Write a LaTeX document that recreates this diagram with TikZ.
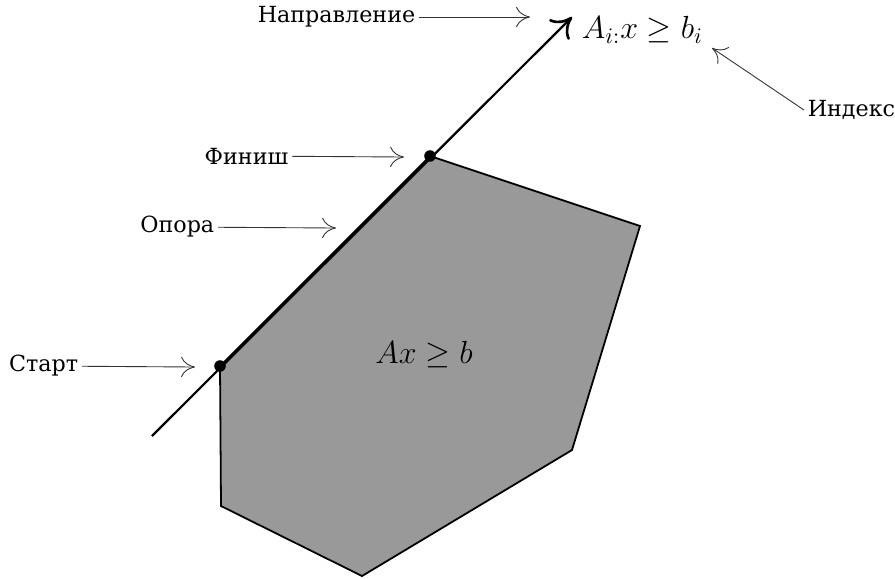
\documentclass[tikz,border=0pt]{standalone}
\usepackage{fontspec}
\setmainfont{DejaVu Serif}
\usepackage{amsmath}
\usepackage{tikz}
\usetikzlibrary{arrows.meta, positioning, calc}
\definecolor{regionfill}{HTML}{999999}
\definecolor{pointer}{HTML}{333333}

\begin{document}
\begin{tikzpicture}[
    x=0.45pt, y=-0.45pt,
    label/.style={inner sep=1.5pt, font=\normalsize},
    hint/.style={-{To[length=2.2mm, width=3.2mm]}, color=pointer, line width=0.4pt},
    vertex/.style={circle, fill=black, inner sep=0pt, minimum size=5.2pt},
    edge/.style={draw=black, line width=0.8pt, fill=regionfill},
]
\useasboundingbox (0,0) rectangle (895,578);

% the feasible region
\draw[edge] (220,366) -- (430,156) -- (640,226) -- (572,450) -- (362,576) -- (221,506) -- cycle;
\node[font=\Large] (region) at (424,355) {$Ax \geq b$};

% the direction line and its end points
\coordinate (tail) at (152,436);
\coordinate (head) at (572,17);
\draw[-{To[length=3mm, width=4.5mm, line width=1.2pt]}, line width=1pt] (tail) -- (head);
\node[vertex] (start) at (220,366) {};
\node[vertex] (finish) at (430,156) {};
\node[font=\Large, anchor=west] (constraint) at (574,30) {$A_{i:}x \geq b_i$};

% labels on the left
\node[label, anchor=east] (direction) at (419,17) {Направление};
\node[label, anchor=east] (fin) at (292,156) {Финиш};
\node[label, anchor=east] (support) at (218,227) {Опора};
\node[label, anchor=east] (st) at (82,366) {Старт};
\node[label, anchor=west] (index) at (804,110) {Индекс};

\coordinate (dirtip) at (530,17);
\coordinate (fintip) at (404,157);
\coordinate (suptip) at (336,228);
\coordinate (sttip) at (195,367);
\coordinate (idxtip) at (712,48);

% pointers
\draw[hint] (direction) -- (dirtip);
\draw[hint] (fin) -- (fintip);
\draw[hint] (support) -- (suptip);
\draw[hint] (st) -- (sttip);
\draw[hint] (index.west) -- (idxtip);

\end{tikzpicture}
\end{document}
